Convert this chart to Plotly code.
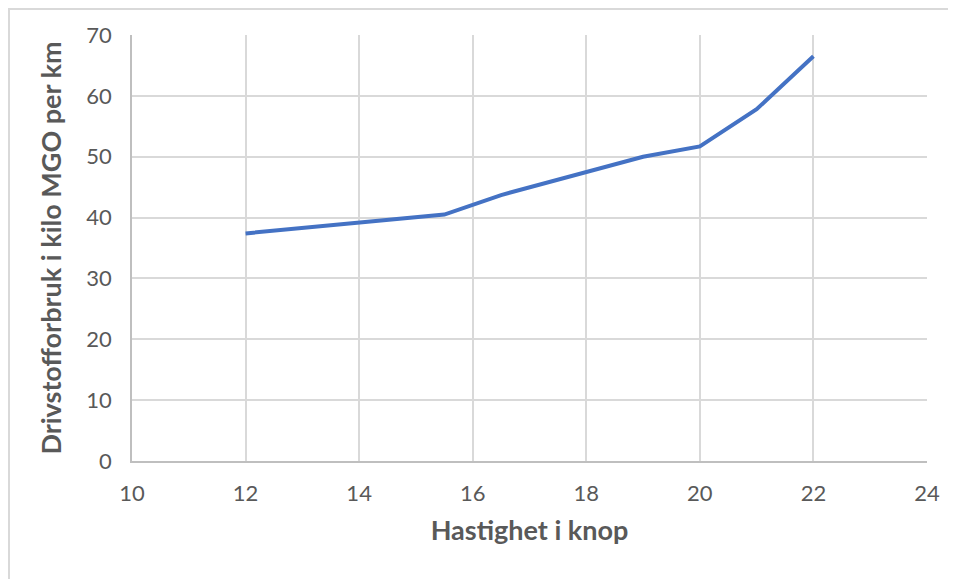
import plotly.graph_objects as go

speed_knots = [12, 14, 15.5, 16.5, 18, 19, 20, 21, 22]
fuel_kg_per_km = [37.4, 39.2, 40.5, 43.7, 47.4, 50.0, 51.7, 57.8, 66.5]

x_title = "Hastighet i knop"
y_title = "Drivstofforbruk i kilo MGO per km"

# page body has an 8px margin, so figure coordinates are window - 8
OFF = 8
W, H = 948, 571
L, R, T, B = 132 - OFF, 29, 35 - OFF, 118
pw, ph = W - L - R, H - T - B

def px(xf):
    return (xf - L) / pw

def py(yf):
    return (H - B - yf) / ph

font_family = "Lato"
grey = "#595959"

fig = go.Figure()
fig.add_trace(go.Scatter(
    x=speed_knots, y=fuel_kg_per_km, mode="lines",
    line=dict(color="#4472C4", width=4), showlegend=False,
))

fig.update_layout(
    width=W, height=H,
    margin=dict(l=L, r=R, t=T, b=B),
    paper_bgcolor="white", plot_bgcolor="white",
    font=dict(family=font_family, color=grey, size=22),
    xaxis=dict(
        range=[10, 24], dtick=2, tick0=10,
        showgrid=True, gridcolor="#d9d9d9", gridwidth=1.5,
        showline=True, linecolor="#bfbfbf", linewidth=1.5,
        zeroline=False, ticks="outside", ticklen=12, tickcolor="rgba(0,0,0,0)",
        tickfont=dict(size=22, color=grey, family=font_family),
        title=dict(text=x_title, font=dict(size=27, color=grey, family=font_family, weight="bold"), standoff=16),
    ),
    yaxis=dict(
        range=[0, 70], dtick=10,
        showgrid=True, gridcolor="#d9d9d9", gridwidth=1.5,
        showline=True, linecolor="#bfbfbf", linewidth=1.5,
        zeroline=False, ticks="outside", ticklen=14, tickcolor="rgba(0,0,0,0)",
        tickfont=dict(size=22, color=grey, family=font_family),
        title=dict(text=y_title, font=dict(size=27, color=grey, family=font_family, weight="bold"), standoff=17),
    ),
    shapes=[
        dict(type="line", xref="paper", yref="paper", x0=px(0), x1=px(W + 40), y0=py(1), y1=py(1),
             line=dict(color="#d9d9d9", width=2), layer="above"),
        dict(type="line", xref="paper", yref="paper", x0=px(1), x1=px(1), y0=py(0), y1=py(H + 40),
             line=dict(color="#d9d9d9", width=2), layer="above"),
    ],
)

fig.write_html("out.html")
